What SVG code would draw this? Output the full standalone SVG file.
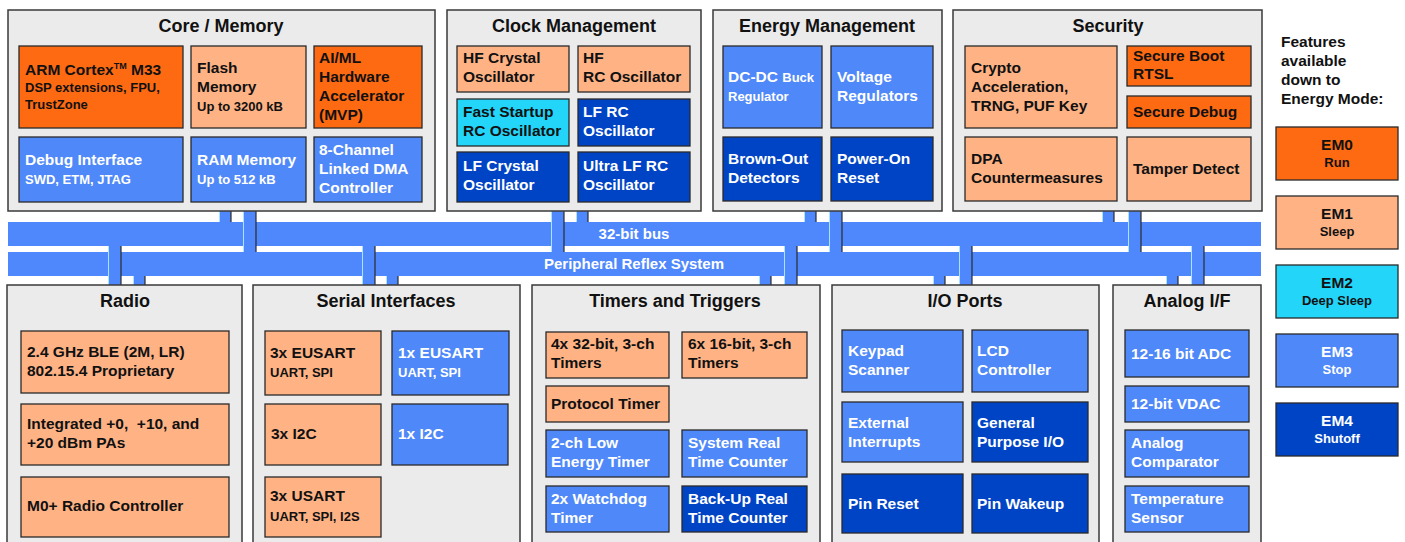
<svg xmlns="http://www.w3.org/2000/svg" width="1405" height="542" viewBox="0 0 1405 542">
<style>
text{font-family:"Liberation Sans",Arial,sans-serif;font-weight:bold}
.panel{fill:#ebebeb;stroke:#3a3a3a;stroke-width:1.5}
.title{font-size:18px;fill:#111;text-anchor:middle}
.bx{stroke:#2a2a2a;stroke-width:1.3}
.o{fill:#fd6a12}
.p{fill:#ffb385}
.c{fill:#22d5f9}
.l{fill:#4f88f8}
.d{fill:#0044c6}
.t{font-size:15.5px;fill:#111}
.w{font-size:15.5px;fill:#fff}
.s{font-size:13px}
.bus{fill:#4f88fc}
.bl{font-size:15px;fill:#fff;text-anchor:middle}
.stub{fill:#4f88fc}
.sl{stroke:#a8e4ff;stroke-width:1}
.sr{stroke:#2a2a2a;stroke-width:1.2}
.em{font-size:15.5px;text-anchor:middle}
.ems{font-size:13px;text-anchor:middle}
</style>

<g id="buses">
<rect class="bus" x="8" y="222" width="1253" height="24"/>
<rect class="bus" x="8" y="252" width="1253" height="24"/>
<text class="bl" x="634" y="239">32-bit bus</text>
<text class="bl" x="634" y="269">Peripheral Reflex System</text>
</g>

<g id="connectors">
<rect class="stub" x="219" y="211" width="12" height="11"/><line class="sl" x1="219.5" y1="211" x2="219.5" y2="222"/><line class="sr" x1="231" y1="211" x2="231" y2="222"/>
<rect class="stub" x="243" y="211" width="13" height="41"/><line class="sl" x1="243.5" y1="211" x2="243.5" y2="252"/><line class="sr" x1="256" y1="211" x2="256" y2="252"/>
<rect class="stub" x="551" y="211" width="13" height="41"/><line class="sl" x1="551.5" y1="211" x2="551.5" y2="252"/><line class="sr" x1="564" y1="211" x2="564" y2="252"/>
<rect class="stub" x="576" y="211" width="12" height="11"/><line class="sl" x1="576.5" y1="211" x2="576.5" y2="222"/><line class="sr" x1="588" y1="211" x2="588" y2="222"/>
<rect class="stub" x="804" y="211" width="12" height="11"/><line class="sl" x1="804.5" y1="211" x2="804.5" y2="222"/><line class="sr" x1="816" y1="211" x2="816" y2="222"/>
<rect class="stub" x="829" y="211" width="13" height="41"/><line class="sl" x1="829.5" y1="211" x2="829.5" y2="252"/><line class="sr" x1="842" y1="211" x2="842" y2="252"/>
<rect class="stub" x="1102" y="211" width="12" height="11"/><line class="sl" x1="1102.5" y1="211" x2="1102.5" y2="222"/><line class="sr" x1="1114" y1="211" x2="1114" y2="222"/>
<rect class="stub" x="1128" y="211" width="13" height="41"/><line class="sl" x1="1128.5" y1="211" x2="1128.5" y2="252"/><line class="sr" x1="1141" y1="211" x2="1141" y2="252"/>
<rect class="stub" x="108" y="246" width="13" height="39"/><line class="sl" x1="108.5" y1="246" x2="108.5" y2="285"/><line class="sr" x1="121" y1="246" x2="121" y2="285"/>
<rect class="stub" x="133" y="276" width="12" height="9"/><line class="sl" x1="133.5" y1="276" x2="133.5" y2="285"/><line class="sr" x1="145" y1="276" x2="145" y2="285"/>
<rect class="stub" x="362" y="246" width="13" height="39"/><line class="sl" x1="362.5" y1="246" x2="362.5" y2="285"/><line class="sr" x1="375" y1="246" x2="375" y2="285"/>
<rect class="stub" x="386" y="276" width="12" height="9"/><line class="sl" x1="386.5" y1="276" x2="386.5" y2="285"/><line class="sr" x1="398" y1="276" x2="398" y2="285"/>
<rect class="stub" x="759" y="276" width="12" height="9"/><line class="sl" x1="759.5" y1="276" x2="759.5" y2="285"/><line class="sr" x1="771" y1="276" x2="771" y2="285"/>
<rect class="stub" x="784" y="246" width="13" height="39"/><line class="sl" x1="784.5" y1="246" x2="784.5" y2="285"/><line class="sr" x1="797" y1="246" x2="797" y2="285"/>
<rect class="stub" x="933" y="276" width="12" height="9"/><line class="sl" x1="933.5" y1="276" x2="933.5" y2="285"/><line class="sr" x1="945" y1="276" x2="945" y2="285"/>
<rect class="stub" x="959" y="246" width="13" height="39"/><line class="sl" x1="959.5" y1="246" x2="959.5" y2="285"/><line class="sr" x1="972" y1="246" x2="972" y2="285"/>
<rect class="stub" x="1166" y="276" width="12" height="9"/><line class="sl" x1="1166.5" y1="276" x2="1166.5" y2="285"/><line class="sr" x1="1178" y1="276" x2="1178" y2="285"/>
<rect class="stub" x="1191" y="246" width="13" height="39"/><line class="sl" x1="1191.5" y1="246" x2="1191.5" y2="285"/><line class="sr" x1="1204" y1="246" x2="1204" y2="285"/>
</g>

<g id="core-memory">
<rect class="panel" x="8" y="10" width="427" height="201"/>
<text class="title" x="221" y="32">Core / Memory</text>
<g id="arm"><rect class="bx o" x="19" y="46" width="164" height="82"/>
<text class="t" x="25" y="75">ARM Cortex<tspan font-size="9" dy="-6">TM</tspan><tspan dy="6"> M33</tspan></text>
<text class="t s" x="25" y="92">DSP extensions, FPU,</text>
<text class="t s" x="25" y="109">TrustZone</text></g>
<g id="flash"><rect class="bx p" x="191" y="46" width="115" height="82"/>
<text class="t" x="197" y="73">Flash</text><text class="t" x="197" y="92">Memory</text>
<text class="t s" x="197" y="111">Up to 3200 kB</text></g>
<g id="aiml"><rect class="bx o" x="314" y="46" width="108" height="82"/>
<text class="t" x="319" y="63">AI/ML</text><text class="t" x="319" y="82">Hardware</text>
<text class="t" x="319" y="101">Accelerator</text><text class="t" x="319" y="120">(MVP)</text></g>
<g id="debug"><rect class="bx l" x="19" y="137" width="164" height="65"/>
<text class="w" x="25" y="165">Debug Interface</text><text class="w s" x="25" y="184">SWD, ETM, JTAG</text></g>
<g id="ram"><rect class="bx l" x="191" y="137" width="115" height="65"/>
<text class="w" x="197" y="165">RAM Memory</text><text class="w s" x="197" y="184">Up to 512 kB</text></g>
<g id="dma"><rect class="bx l" x="314" y="137" width="108" height="65"/>
<text class="w" x="319" y="155">8-Channel</text><text class="w" x="319" y="174">Linked DMA</text><text class="w" x="319" y="193">Controller</text></g>
</g>

<g id="clock-management">
<rect class="panel" x="447" y="10" width="254" height="201"/>
<text class="title" x="574" y="32">Clock Management</text>
<g id="hfxo"><rect class="bx p" x="457" y="46" width="112" height="46"/>
<text class="t" x="463" y="63">HF Crystal</text><text class="t" x="463" y="82">Oscillator</text></g>
<g id="hfrco"><rect class="bx p" x="578" y="46" width="112" height="46"/>
<text class="t" x="583" y="63">HF</text><text class="t" x="583" y="82">RC Oscillator</text></g>
<g id="fsrco"><rect class="bx c" x="457" y="99" width="112" height="47"/>
<text class="t" x="463" y="117">Fast Startup</text><text class="t" x="463" y="136">RC Oscillator</text></g>
<g id="lfrco"><rect class="bx d" x="578" y="99" width="112" height="47"/>
<text class="w" x="583" y="117">LF RC</text><text class="w" x="583" y="136">Oscillator</text></g>
<g id="lfxo"><rect class="bx d" x="457" y="152" width="112" height="50"/>
<text class="w" x="463" y="171">LF Crystal</text><text class="w" x="463" y="190">Oscillator</text></g>
<g id="ulfrco"><rect class="bx d" x="578" y="152" width="112" height="50"/>
<text class="w" x="583" y="171">Ultra LF RC</text><text class="w" x="583" y="190">Oscillator</text></g>
</g>

<g id="energy-management">
<rect class="panel" x="713" y="10" width="229" height="201"/>
<text class="title" x="827" y="32">Energy Management</text>
<g id="dcdc"><rect class="bx l" x="723" y="46" width="99" height="82"/>
<text class="w" x="728" y="82">DC-DC <tspan font-size="13">Buck</tspan></text><text class="w s" x="728" y="101">Regulator</text></g>
<g id="vreg"><rect class="bx l" x="831" y="46" width="102" height="82"/>
<text class="w" x="837" y="82">Voltage</text><text class="w" x="837" y="101">Regulators</text></g>
<g id="bod"><rect class="bx d" x="723" y="137" width="99" height="64"/>
<text class="w" x="728" y="164">Brown-Out</text><text class="w" x="728" y="183">Detectors</text></g>
<g id="por"><rect class="bx d" x="831" y="137" width="102" height="64"/>
<text class="w" x="837" y="164">Power-On</text><text class="w" x="837" y="183">Reset</text></g>
</g>

<g id="security">
<rect class="panel" x="953" y="10" width="309" height="201"/>
<text class="title" x="1108" y="32">Security</text>
<g id="crypto"><rect class="bx p" x="965" y="46" width="152" height="82"/>
<text class="t" x="971" y="73">Crypto</text><text class="t" x="971" y="92">Acceleration,</text><text class="t" x="971" y="111">TRNG, PUF Key</text></g>
<g id="secboot"><rect class="bx o" x="1127" y="46" width="124" height="40"/>
<text class="t" x="1133" y="61">Secure Boot</text><text class="t" x="1133" y="79">RTSL</text></g>
<g id="secdebug"><rect class="bx o" x="1127" y="96" width="124" height="32"/>
<text class="t" x="1133" y="117">Secure Debug</text></g>
<g id="dpa"><rect class="bx p" x="965" y="137" width="152" height="64"/>
<text class="t" x="971" y="164">DPA</text><text class="t" x="971" y="183">Countermeasures</text></g>
<g id="tamper"><rect class="bx p" x="1127" y="137" width="124" height="64"/>
<text class="t" x="1133" y="174">Tamper Detect</text></g>
</g>

<g id="legend">
<text class="t" x="1281" y="47">Features</text>
<text class="t" x="1281" y="66">available</text>
<text class="t" x="1281" y="85">down to</text>
<text class="t" x="1281" y="104">Energy Mode:</text>
<g id="em0"><rect class="bx o" x="1276" y="127" width="122" height="53"/>
<text class="em" x="1337" y="150" fill="#111">EM0</text><text class="ems" x="1337" y="167" fill="#111">Run</text></g>
<g id="em1"><rect class="bx p" x="1276" y="196" width="122" height="53"/>
<text class="em" x="1337" y="219" fill="#111">EM1</text><text class="ems" x="1337" y="236" fill="#111">Sleep</text></g>
<g id="em2"><rect class="bx c" x="1276" y="265" width="122" height="53"/>
<text class="em" x="1337" y="288" fill="#111">EM2</text><text class="ems" x="1337" y="305" fill="#111">Deep Sleep</text></g>
<g id="em3"><rect class="bx l" x="1276" y="334" width="122" height="53"/>
<text class="em" x="1337" y="357" fill="#fff">EM3</text><text class="ems" x="1337" y="374" fill="#fff">Stop</text></g>
<g id="em4"><rect class="bx d" x="1276" y="403" width="122" height="53"/>
<text class="em" x="1337" y="426" fill="#fff">EM4</text><text class="ems" x="1337" y="443" fill="#fff">Shutoff</text></g>
</g>

<g id="radio">
<rect class="panel" x="7" y="285" width="235" height="265"/>
<text class="title" x="125" y="307">Radio</text>
<g id="ble"><rect class="bx p" x="21" y="331" width="208" height="62"/>
<text class="t" x="27" y="357">2.4 GHz BLE (2M, LR)</text><text class="t" x="27" y="376">802.15.4 Proprietary</text></g>
<g id="pa"><rect class="bx p" x="21" y="404" width="208" height="61"/>
<text class="t" x="27" y="429">Integrated +0, &#160;+10, and</text><text class="t" x="27" y="448">+20 dBm PAs</text></g>
<g id="m0"><rect class="bx p" x="21" y="477" width="208" height="60"/>
<text class="t" x="27" y="511">M0+ Radio Controller</text></g>
</g>

<g id="serial-interfaces">
<rect class="panel" x="253" y="285" width="267" height="265"/>
<text class="title" x="386" y="307">Serial Interfaces</text>
<g id="eusart3"><rect class="bx p" x="265" y="331" width="116" height="64"/>
<text class="t" x="270" y="358">3x EUSART</text><text class="t s" x="270" y="377">UART, SPI</text></g>
<g id="eusart1"><rect class="bx l" x="392" y="331" width="117" height="64"/>
<text class="w" x="398" y="358">1x EUSART</text><text class="w s" x="398" y="377">UART, SPI</text></g>
<g id="i2c3"><rect class="bx p" x="265" y="404" width="116" height="61"/>
<text class="t" x="271" y="439">3x I2C</text></g>
<g id="i2c1"><rect class="bx l" x="392" y="404" width="116" height="61"/>
<text class="w" x="398" y="439">1x I2C</text></g>
<g id="usart3"><rect class="bx p" x="265" y="477" width="116" height="60"/>
<text class="t" x="270" y="501">3x USART</text><text class="t s" x="270" y="521">UART, SPI, I2S</text></g>
</g>

<g id="timers-triggers">
<rect class="panel" x="532" y="285" width="288" height="265"/>
<text class="title" x="675" y="307">Timers and Triggers</text>
<g id="t32"><rect class="bx p" x="546" y="332" width="123" height="46"/>
<text class="t" x="551" y="349">4x 32-bit, 3-ch</text><text class="t" x="551" y="368">Timers</text></g>
<g id="t16"><rect class="bx p" x="682" y="332" width="125" height="46"/>
<text class="t" x="688" y="349">6x 16-bit, 3-ch</text><text class="t" x="688" y="368">Timers</text></g>
<g id="protimer"><rect class="bx p" x="546" y="386" width="123" height="36"/>
<text class="t" x="551" y="409">Protocol Timer</text></g>
<g id="letimer"><rect class="bx l" x="546" y="430" width="123" height="47"/>
<text class="w" x="551" y="448">2-ch Low</text><text class="w" x="551" y="467">Energy Timer</text></g>
<g id="sysrtc"><rect class="bx l" x="682" y="430" width="125" height="47"/>
<text class="w" x="688" y="448">System Real</text><text class="w" x="688" y="467">Time Counter</text></g>
<g id="wdog"><rect class="bx l" x="546" y="486" width="123" height="46"/>
<text class="w" x="551" y="504">2x Watchdog</text><text class="w" x="551" y="523">Timer</text></g>
<g id="burtc"><rect class="bx d" x="682" y="486" width="125" height="46"/>
<text class="w" x="688" y="504">Back-Up Real</text><text class="w" x="688" y="523">Time Counter</text></g>
</g>

<g id="io-ports">
<rect class="panel" x="832" y="285" width="267" height="265"/>
<text class="title" x="965" y="307">I/O Ports</text>
<g id="keypad"><rect class="bx l" x="842" y="330" width="121" height="62"/>
<text class="w" x="848" y="356">Keypad</text><text class="w" x="848" y="375">Scanner</text></g>
<g id="lcd"><rect class="bx l" x="972" y="330" width="116" height="62"/>
<text class="w" x="977" y="356">LCD</text><text class="w" x="977" y="375">Controller</text></g>
<g id="extint"><rect class="bx l" x="842" y="402" width="121" height="60"/>
<text class="w" x="848" y="428">External</text><text class="w" x="848" y="447">Interrupts</text></g>
<g id="gpio"><rect class="bx d" x="972" y="402" width="116" height="60"/>
<text class="w" x="977" y="428">General</text><text class="w" x="977" y="447">Purpose I/O</text></g>
<g id="pinreset"><rect class="bx d" x="842" y="474" width="121" height="59"/>
<text class="w" x="848" y="509">Pin Reset</text></g>
<g id="pinwake"><rect class="bx d" x="972" y="474" width="116" height="59"/>
<text class="w" x="977" y="509">Pin Wakeup</text></g>
</g>

<g id="analog">
<rect class="panel" x="1113" y="285" width="148" height="265"/>
<text class="title" x="1187" y="307">Analog I/F</text>
<g id="adc"><rect class="bx l" x="1125" y="330" width="124" height="47"/>
<text class="w" x="1131" y="359">12-16 bit ADC</text></g>
<g id="vdac"><rect class="bx l" x="1125" y="386" width="124" height="36"/>
<text class="w" x="1131" y="409">12-bit VDAC</text></g>
<g id="acmp"><rect class="bx l" x="1125" y="430" width="124" height="47"/>
<text class="w" x="1131" y="448">Analog</text><text class="w" x="1131" y="467">Comparator</text></g>
<g id="temp"><rect class="bx l" x="1125" y="486" width="124" height="46"/>
<text class="w" x="1131" y="504">Temperature</text><text class="w" x="1131" y="523">Sensor</text></g>
</g>
</svg>
